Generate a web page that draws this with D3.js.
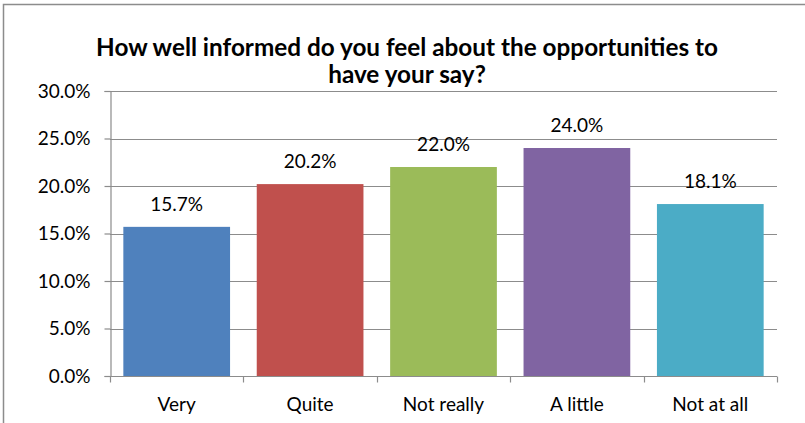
<!DOCTYPE html>
<html>
<head>
<meta charset="utf-8">
<script src="https://cdn.jsdelivr.net/npm/d3@7"></script>
<style>
  html, body { margin: 0; padding: 0; background: #fff; }
  svg { display: block; }
  text { font-family: Lato, "Open Sans", sans-serif; fill: #000; }
</style>
</head>
<body>
<svg id="chart" width="805" height="423"></svg>
<script>
// Survey responses
const categories = ["Very", "Quite", "Not really", "A little", "Not at all"];
const values = [15.7, 20.2, 22.0, 24.0, 18.1];
const colors = ["#4f81bd", "#c0504d", "#9bbb59", "#8064a2", "#4bacc6"];
const yTicks = [0, 5, 10, 15, 20, 25, 30];
const titleLines = ["How well informed do you feel about the opportunities to", "have your say?"];

const svg = d3.select("#chart");

// Chart frame (extends past the right and bottom edges)
svg.append("rect")
  .attr("x", 3.5).attr("y", 4.5)
  .attr("width", 820).attr("height", 440)
  .attr("fill", "#fff")
  .attr("stroke", "#8c8c8c")
  .attr("stroke-width", 1.5);

const plot = { left: 110, right: 777, top: 91, bottom: 376 };

const x = d3.scaleBand()
  .domain(categories)
  .range([plot.left, plot.right])
  .paddingInner(0.2)
  .paddingOuter(0.1);

const y = d3.scaleLinear()
  .domain([0, 30])
  .range([plot.bottom, plot.top]);

// Title
svg.append("text")
  .attr("x", 407)
  .attr("y", 56)
  .attr("text-anchor", "middle")
  .attr("font-size", 24.3)
  .attr("font-weight", "bold")
  .selectAll("tspan")
  .data(titleLines)
  .join("tspan")
  .attr("x", 407)
  .attr("dy", (d, i) => i === 0 ? 0 : 27)
  .text(d => d);

// Horizontal gridlines
svg.append("g")
  .selectAll("line")
  .data(yTicks.filter(t => t > 0))
  .join("line")
  .attr("x1", plot.left).attr("x2", plot.right)
  .attr("y1", d => Math.round(y(d)) + 0.5)
  .attr("y2", d => Math.round(y(d)) + 0.5)
  .attr("stroke", "#8c8c8c")
  .attr("stroke-width", 1.2);

// Y axis
const yAxis = svg.append("g")
  .attr("transform", `translate(${plot.left + 0.5},0)`)
  .call(d3.axisLeft(y)
    .tickValues(yTicks)
    .tickSize(6)
    .tickPadding(14)
    .tickFormat(d => d.toFixed(1) + "%"));
yAxis.select(".domain").attr("stroke", "#8c8c8c").attr("stroke-width", 1.2);
yAxis.selectAll(".tick line").attr("stroke", "#8c8c8c").attr("stroke-width", 1.2);
yAxis.selectAll(".tick text")
  .attr("font-size", 19)
  .attr("font-family", "Lato, 'Open Sans', sans-serif")
  .attr("fill", "#000");

// Bars
svg.append("g")
  .selectAll("rect")
  .data(values)
  .join("rect")
  .attr("x", (d, i) => x(categories[i]))
  .attr("y", d => y(d))
  .attr("width", x.bandwidth())
  .attr("height", d => y(0) - y(d))
  .attr("fill", (d, i) => colors[i]);

// Value labels
svg.append("g")
  .selectAll("text")
  .data(values)
  .join("text")
  .attr("x", (d, i) => x(categories[i]) + x.bandwidth() / 2)
  .attr("y", d => y(d) - 16)
  .attr("text-anchor", "middle")
  .attr("font-size", 19)
  .text(d => d.toFixed(1) + "%");

// X axis with ticks at category boundaries
const xAxisG = svg.append("g")
  .attr("transform", `translate(0,${plot.bottom + 0.5})`);
xAxisG.append("line")
  .attr("x1", plot.left).attr("x2", plot.right)
  .attr("stroke", "#8c8c8c").attr("stroke-width", 1.2);
const bounds = d3.range(categories.length + 1).map(i => plot.left + i * (plot.right - plot.left) / categories.length);
xAxisG.selectAll("line.tick")
  .data(bounds)
  .join("line")
  .attr("class", "tick")
  .attr("x1", d => Math.round(d) + 0.5).attr("x2", d => Math.round(d) + 0.5)
  .attr("y1", 0).attr("y2", 6)
  .attr("stroke", "#8c8c8c").attr("stroke-width", 1.2);
xAxisG.selectAll("text")
  .data(categories)
  .join("text")
  .attr("x", d => x(d) + x.bandwidth() / 2)
  .attr("y", 34)
  .attr("text-anchor", "middle")
  .attr("font-size", 19)
  .text(d => d);
</script>
</body>
</html>
